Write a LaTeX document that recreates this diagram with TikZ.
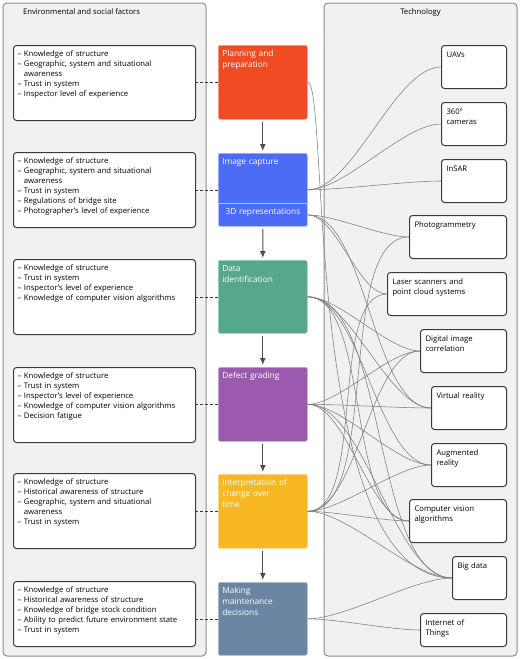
\documentclass[tikz,border=0pt]{standalone}
\usepackage{fontspec}
\setmainfont{Open Sans}
\usepackage{tikz}
\usetikzlibrary{positioning, arrows.meta, calc}
\definecolor{cPlan}{RGB}{240,76,35}
\definecolor{cImg}{RGB}{76,108,245}
\definecolor{cData}{RGB}{86,168,138}
\definecolor{cGrade}{RGB}{155,90,173}
\definecolor{cTime}{RGB}{248,184,36}
\definecolor{cMaint}{RGB}{106,134,163}
\definecolor{cPanel}{RGB}{240,241,243}
\definecolor{cEdge}{RGB}{140,140,140}
\definecolor{cBox}{RGB}{58,58,58}
\definecolor{cLink}{RGB}{125,125,125}

\begin{document}
\begin{tikzpicture}[x=1pt, y=-1pt, font=\fontsize{7.7}{10}\selectfont,
    panel/.style={draw=cEdge, fill=cPanel, line width=1pt, rounded corners=4pt},
    factor/.style={draw=cBox, fill=white, line width=1pt, rounded corners=3pt, anchor=north west,
                   text width=174pt, align=left, inner sep=4pt, text height=7pt, text depth=#1},
    factor/.default=60pt,
    stage/.style={fill=#1, draw=#1!55!white, line width=0.6pt, rounded corners=2pt, anchor=north west,
                  text=white, text width=81pt, align=left, inner sep=4pt, text height=7pt,
                  font=\fontsize{8.3}{11}\selectfont},
    tech/.style={draw=cBox, fill=white, line width=1pt, rounded corners=3pt, anchor=north east,
                 text width=#1, align=left, inner sep=5pt, text height=7pt, text depth=26pt},
    flow/.style={-{Latex[length=7pt,width=6pt]}, draw=cBox!90, line width=1.1pt,
                 shorten <=2pt, shorten >=2pt},
    tie/.style={draw=cBox, line width=0.6pt, dash pattern=on 3pt off 2pt},
    link/.style={draw=cLink, line width=0.55pt, out=0, in=180, looseness=0.65}]

    \useasboundingbox (0,0) rectangle (520,659);

    % Panels
    \draw[panel] (3,3) rectangle (206,656);
    \draw[panel] (324,3) rectangle (517,656);
    \node[anchor=west] (envtitle) at (19.5,12) {Environmental and social factors};
    \node (techtitle) at (420.5,12) {Technology};

    % Environmental and social factors
    \node[factor] (f1) at (13,45) {\textendash{} Knowledge of structure\\ \textendash{} Geographic, system and situational\\ \hphantom{\textendash{} }awareness\\ \textendash{} Trust in system\\ \textendash{} Inspector level of experience};
    \node[factor] (f2) at (13,152) {\textendash{} Knowledge of structure\\ \textendash{} Geographic, system and situational\\ \hphantom{\textendash{} }awareness\\ \textendash{} Trust in system\\ \textendash{} Regulations of bridge site\\ \textendash{} Photographer's level of experience};
    \node[factor] (f3) at (13,259) {\textendash{} Knowledge of structure\\ \textendash{} Trust in system\\ \textendash{} Inspector's level of experience\\ \textendash{} Knowledge of computer vision algorithms};
    \node[factor] (f4) at (13,367) {\textendash{} Knowledge of structure\\ \textendash{} Trust in system\\ \textendash{} Inspector's level of experience\\ \textendash{} Knowledge of computer vision algorithms\\ \textendash{} Decision fatigue};
    \node[factor] (f5) at (13,473) {\textendash{} Knowledge of structure\\ \textendash{} Historical awareness of structure\\ \textendash{} Geographic, system and situational\\ \hphantom{\textendash{} }awareness\\ \textendash{} Trust in system};
    \node[factor=50pt] (f6) at (13,581) {\textendash{} Knowledge of structure\\ \textendash{} Historical awareness of structure\\ \textendash{} Knowledge of bridge stock condition\\ \textendash{} Ability to predict future environment state\\ \textendash{} Trust in system};

    % Inspection stages
    \node[stage=cPlan, text depth=59pt] (plan) at (218,45) {Planning and\\preparation};
    \node[stage=cImg, text depth=58pt] (capture) at (218,153) {Image capture};
    \node[stage=cImg, draw=cImg!40!white, line width=0.8pt, align=center, text depth=8pt] (rep) at (218,203) {3D representations};
    \node[stage=cData, text depth=58pt] (ident) at (218,260) {Data\\identification};
    \node[stage=cGrade, text depth=59pt] (grade) at (218,367) {Defect grading};
    \node[stage=cTime, text depth=59pt] (change) at (218,474) {Interpretation of\\change over\\time};
    \node[stage=cMaint, text depth=58pt] (maint) at (218,582) {Making\\maintenance\\decisions};

    % Technology
    \node[tech=55pt] (uav) at (507,45) {UAVs};
    \node[tech=55pt] (cam) at (507,102) {360°\\cameras};
    \node[tech=55pt] (sar) at (507,159) {InSAR};
    \node[tech=87pt] (pgm) at (507,215) {Photogrammetry};
    \node[tech=109pt] (lidar) at (507,272) {Laser scanners and\\point cloud systems};
    \node[tech=76pt] (dic) at (507,329) {Digital image\\correlation};
    \node[tech=65pt] (vr) at (507,386) {Virtual reality};
    \node[tech=65pt] (ar) at (507,443) {Augmented\\reality};
    \node[tech=87pt] (cv) at (507,499) {Computer vision\\algorithms};
    \node[tech=44pt] (bigdata) at (507,556) {Big data};
    \node[tech=76pt, text depth=16pt] (iot) at (507,613) {Internet of\\Things};

    % Stage flow
    \draw[flow] (plan) -- (capture);
    \draw[flow] (rep) -- (ident);
    \draw[flow] (ident) -- (grade);
    \draw[flow] (grade) -- (change);
    \draw[flow] (change) -- (maint);

    % Factors to stages
    \draw[tie] (plan.west) -- (plan.west -| f1.east);
    \draw[tie] (capture.west) -- (capture.west -| f2.east);
    \draw[tie] (ident.west) -- (ident.west -| f3.east);
    \draw[tie] (grade.west) -- (grade.west -| f4.east);
    \draw[tie] (change.west) -- (change.west -| f5.east);
    \draw[tie] (maint.west) -- (maint.west -| f6.east);

    % Stages to technology
    \draw[link] (plan.east) .. controls +(22,0) and +(-150,0) .. (bigdata.west);
    \path
    (capture.east) edge[link] (uav.west)
                   edge[link] (cam.west)
                   edge[link] (sar.west)
    (rep.east) edge[link] (pgm.west)
               edge[link] (lidar.west)
               edge[link] (vr.west)
    (ident.east) edge[link] (dic.west)
                 edge[link] (vr.west)
                 edge[link] (ar.west)
                 edge[link] (cv.west)
                 edge[link] (bigdata.west)
    (grade.east) edge[link] (dic.west)
                 edge[link] (vr.west)
                 edge[link] (ar.west)
                 edge[link] (cv.west)
                 edge[link] (bigdata.west)
    (change.east) edge[link] (pgm.west)
                  edge[link] (lidar.west)
                  edge[link] (dic.west)
                  edge[link] (ar.west)
                  edge[link] (cv.west)
                  edge[link] (bigdata.west)
    (maint.east) edge[link] (bigdata.west)
                 edge[link] (iot.west);

\end{tikzpicture}
\end{document}
